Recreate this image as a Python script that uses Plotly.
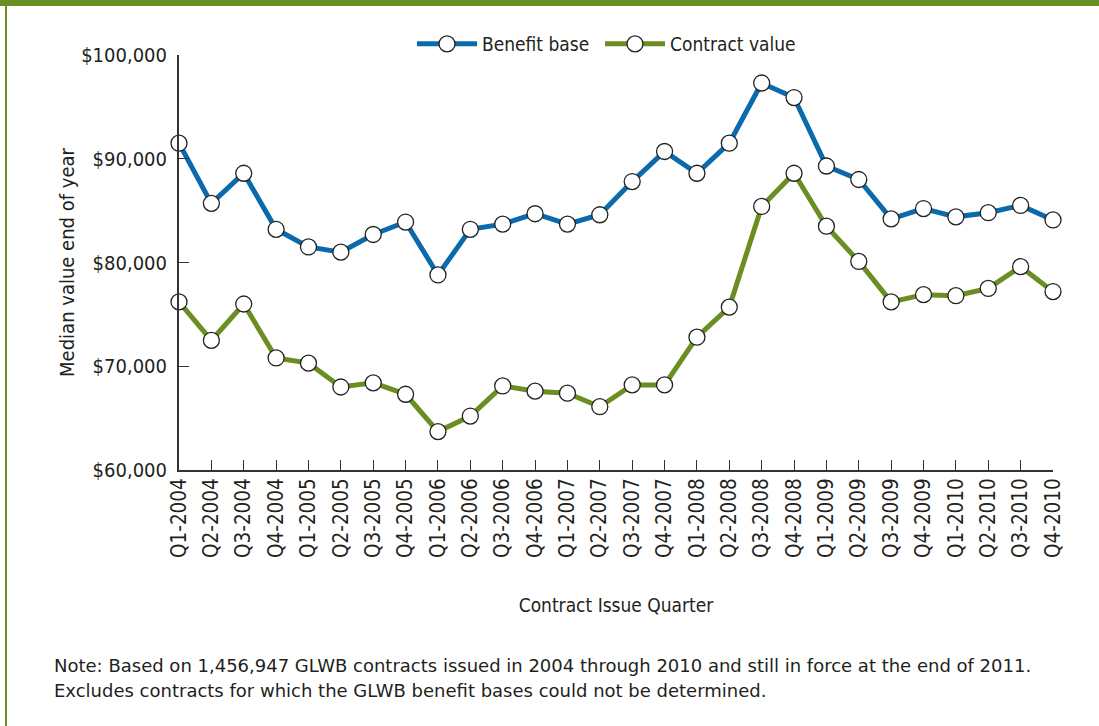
import plotly.graph_objects as go

quarters = ["Q1-2004","Q2-2004","Q3-2004","Q4-2004","Q1-2005","Q2-2005","Q3-2005","Q4-2005",
            "Q1-2006","Q2-2006","Q3-2006","Q4-2006","Q1-2007","Q2-2007","Q3-2007","Q4-2007",
            "Q1-2008","Q2-2008","Q3-2008","Q4-2008","Q1-2009","Q2-2009","Q3-2009","Q4-2009",
            "Q1-2010","Q2-2010","Q3-2010","Q4-2010"]
benefit_base = [91500, 85700, 88600, 83200, 81500, 81000, 82700, 83900,
                78800, 83200, 83700, 84700, 83700, 84600, 87800, 90700,
                88600, 91500, 97300, 95900, 89300, 88000, 84200, 85200,
                84400, 84800, 85500, 84100]
contract_value = [76200, 72500, 76000, 70800, 70300, 68000, 68400, 67300,
                  63700, 65200, 68100, 67600, 67400, 66100, 68200, 68200,
                  72800, 75700, 85400, 88600, 83500, 80100, 76200, 76900,
                  76800, 77500, 79600, 77200]
y_ticks = [60000, 70000, 80000, 90000, 100000]
y_tick_text = ["$60,000", "$70,000", "$80,000", "$90,000", "$100,000"]
note_lines = [
    "Note: Based on 1,456,947 GLWB contracts issued in 2004 through 2010 and still in force at the end of 2011.",
    "Excludes contracts for which the GLWB benefit bases could not be determined.",
]

BLUE = "#0a6aab"
GREEN = "#6b8e23"
TEXT = "#231f20"
FONT = "DejaVu Sans Condensed, Liberation Sans, sans-serif"
NOTE_FONT = "DejaVu Sans, Liberation Sans, sans-serif"

W, H = 1099, 726
L, R, T, B = 179, 46, 55, 256
PW, PH = W - L - R, H - T - B

def px(x):
    return (x - L) / PW

def py(y):
    return (H - B - y) / PH

fig = go.Figure()
marker = dict(size=16, color="white", line=dict(color="#222222", width=1.3))
fig.add_trace(go.Scatter(x=quarters, y=benefit_base, mode="lines+markers", name="Benefit base",
                         line=dict(color=BLUE, width=5), marker=marker, cliponaxis=False,
                         legend="legend"))
fig.add_trace(go.Scatter(x=quarters, y=contract_value, mode="lines+markers", name="Contract value",
                         line=dict(color=GREEN, width=5), marker=marker, cliponaxis=False,
                         legend="legend2"))

legend_common = dict(orientation="h", xanchor="left", yanchor="middle",
                     font=dict(size=19, color=TEXT), itemwidth=60, bgcolor="rgba(0,0,0,0)")

fig.update_layout(
    width=W, height=H,
    margin=dict(l=L, r=R, t=T, b=B, autoexpand=False),
    paper_bgcolor="white", plot_bgcolor="white",
    font=dict(family=FONT, size=18, color=TEXT),
    showlegend=True,
    legend=dict(x=px(412), y=py(44), **legend_common),
    legend2=dict(x=px(600), y=py(44), **legend_common),
    xaxis=dict(
        type="category", range=[0, len(quarters) - 1],
        showline=True, linecolor="#333333", linewidth=2,
        ticks="inside", ticklen=10, tickcolor="#333333", tickwidth=1,
        tickangle=-90, tickfont=dict(size=20.5, color=TEXT), ticklabelstandoff=-2,
        showgrid=False, zeroline=False,
        title=dict(text="Contract Issue Quarter", font=dict(size=19, color=TEXT), standoff=42),
    ),
    yaxis=dict(
        range=[60000, 100000], tickvals=y_ticks, ticktext=y_tick_text,
        showline=True, linecolor="#333333", linewidth=2,
        ticks="inside", ticklen=10, tickcolor="#333333", tickwidth=1,
        tickfont=dict(size=20, color=TEXT), ticklabelstandoff=6,
        showgrid=False, zeroline=False,
        title=dict(text="Median value end of year", font=dict(size=20, color=TEXT), standoff=1),
    ),
    shapes=[
        dict(type="rect", xref="paper", yref="paper", x0=px(0), x1=px(W), y0=py(0), y1=py(6),
             fillcolor=GREEN, line=dict(width=0), layer="above"),
        dict(type="rect", xref="paper", yref="paper", x0=px(5), x1=px(7), y0=py(0), y1=py(H),
             fillcolor=GREEN, line=dict(width=0), layer="above"),
    ],
    annotations=[
        dict(xref="paper", yref="paper", x=px(52), y=py(665 + i * 25), xanchor="left", yanchor="middle",
             align="left", showarrow=False, text=line,
             font=dict(family=NOTE_FONT, size=18, color=TEXT))
        for i, line in enumerate(note_lines)
    ],
)

fig.write_html("out.html", config={"displayModeBar": False},
               post_script="document.body.style.margin='0px';document.body.style.padding='0px';")
